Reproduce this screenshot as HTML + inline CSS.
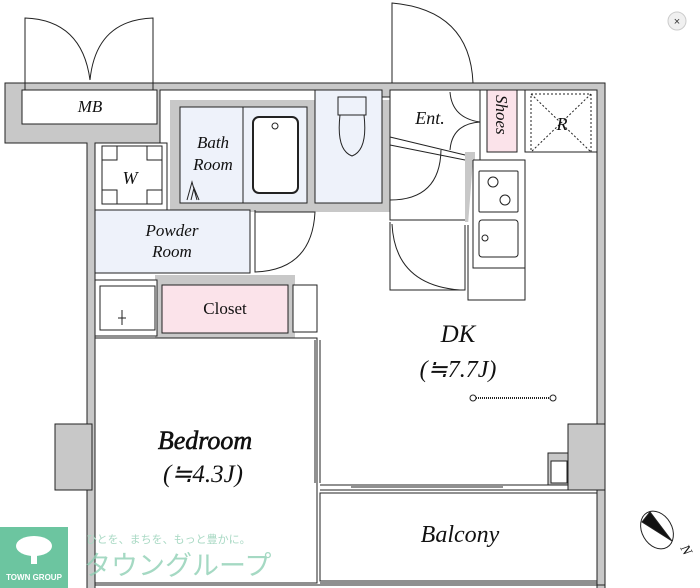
<!DOCTYPE html>
<html><head><meta charset="utf-8"><style>
html,body{margin:0;padding:0;background:#fff;width:700px;height:588px;overflow:hidden}
svg{display:block}
.t{font-family:"Liberation Serif",serif;font-style:italic;fill:#111}
</style></head><body>
<svg width="700" height="588" viewBox="0 0 700 588" xmlns="http://www.w3.org/2000/svg">
<g stroke="#222" stroke-width="1" fill="none">
<path d="M5 83 H605 V590 H597 V90 H390 V97 H315 V90 H160 V143 H95 V590 H87 V143 H5 Z" fill="#c8c8c8"/>
<rect x="22" y="90" width="135" height="34" fill="#fff"/>
<path d="M25 90 V18 Q82 20 90 80 M153 90 V18 Q96 20 90 80"/>
<path d="M25 83 H153"/>
<rect x="170" y="100" width="220" height="112" fill="#c8c8c8" stroke="none"/>
<rect x="180" y="107" width="63" height="96" fill="#eef2fa"/>
<rect x="243" y="107" width="64" height="96" fill="#eef2fa"/>
<rect x="253" y="117" width="45" height="76" rx="6" fill="#fff" stroke-width="2"/>
<circle cx="275" cy="126" r="3"/>
<path d="M187 200 L192 182 L197 200 M191 200 L194 188 L199 200"/>
<rect x="315" y="90" width="67" height="113" fill="#eef2fa"/>
<path d="M338 97 H366 V115 H338 Z M340 115 Q336 150 352 156 Q368 150 364 115"/>
<rect x="95" y="143" width="72" height="70" fill="#fff"/>
<rect x="102" y="146" width="60" height="58" fill="#fff"/>
<path d="M102 160 H117 V146 M147 146 V160 H162 M102 190 H117 V204 M147 204 V190 H162"/>
<path d="M95 210 H250 V273 H95 Z" fill="#eef2fa"/>
<path d="M167 143 V210" />
<path d="M255 210 V272 Q312 270 315 212 H255"/>
<rect x="390" y="90" width="90" height="130" fill="#fff"/>
<path d="M392 83 V3 Q470 10 473 83"/>
<path d="M390 137 L465 155 M390 145 L465 160"/>
<path d="M390 200 Q440 200 441 150"/>
<path d="M450 92 Q452 118 480 122 M450 150 Q452 124 480 122 M480 92 V150"/>
<path d="M390 222 V290 H465 V225 M392 224 Q395 285 460 290" fill="#fff"/>
<rect x="487" y="90" width="30" height="62" fill="#fbe3ea"/>
<rect x="525" y="90" width="72" height="62" fill="#fff"/>
<rect x="531" y="94" width="60" height="58" stroke-dasharray="2,2"/>
<path d="M531 94 L591 152 M591 94 L531 152" stroke-dasharray="2,2"/>
<rect x="465" y="152" width="10" height="70" fill="#c8c8c8" stroke="none"/>
<path d="M473 160 H525 V300 H468 V225" fill="#fff"/>
<path d="M473 160 V268 H525"/>
<rect x="479" y="171" width="39" height="41" rx="1"/>
<circle cx="493" cy="182" r="5"/><circle cx="505" cy="200" r="5"/>
<rect x="479" y="220" width="39" height="37" rx="3"/>
<circle cx="485" cy="238" r="3"/>
<rect x="155" y="275" width="140" height="65" fill="#c8c8c8" stroke="none"/>
<rect x="162" y="285" width="126" height="48" fill="#fbe3ea"/>
<rect x="95" y="280" width="62" height="56" fill="#fff"/>
<rect x="100" y="286" width="55" height="44"/>
<path d="M122 310 V325 M118 318 H126"/>
<rect x="293" y="285" width="24" height="47" fill="#fff"/>
<path d="M165 340 L171 360 L177 340 M164 340 L170 362 M263 340 L269 360 L275 340"/>
<path d="M95 338 H317 V583 H95 Z" fill="#fff"/>
<path d="M315 340 V483 M320 340 V483"/>
<path d="M320 485 H548 M320 490 H597 M351 487 H503"/>
<rect x="320" y="493" width="277" height="88" fill="#fff"/>
<path d="M320 583 H597 M95 585 H605"/>
<rect x="55" y="424" width="37" height="66" fill="#c8c8c8"/>
<rect x="568" y="424" width="37" height="66" fill="#c8c8c8"/>
<rect x="548" y="453" width="20" height="32" fill="#c8c8c8"/>
<rect x="551" y="461" width="16" height="22" fill="#fff"/>
<circle cx="473" cy="398" r="3"/><circle cx="553" cy="398" r="3"/>
<path d="M476 398 H550" stroke-dasharray="1,1" stroke-width="2"/>
<ellipse cx="657" cy="530" rx="15" ry="20" transform="rotate(-30 657 530)"/>
<path d="M642 522 L672 541 L650 512 Z" fill="#111"/>
</g>
<text class="t" x="90" y="112" font-size="17" text-anchor="middle">MB</text>
<text class="t" x="213" y="148" font-size="17" text-anchor="middle">Bath</text>
<text class="t" x="213" y="170" font-size="17" text-anchor="middle">Room</text>
<text class="t" x="130" y="184" font-size="18" text-anchor="middle">W</text>
<text class="t" x="172" y="236" font-size="17" text-anchor="middle">Powder</text>
<text class="t" x="172" y="257" font-size="17" text-anchor="middle">Room</text>
<text class="t" x="430" y="124" font-size="18" text-anchor="middle">Ent.</text>
<text class="t" x="0" y="0" font-size="17" transform="translate(496 95) rotate(90)">Shoes</text>
<text class="t" x="562" y="130" font-size="18" text-anchor="middle">R</text>
<text class="t" x="225" y="314" font-size="17" text-anchor="middle" style="font-style:normal">Closet</text>
<text class="t" x="458" y="342" font-size="25" text-anchor="middle">DK</text>
<text class="t" x="458" y="377" font-size="24" text-anchor="middle">(≒7.7J)</text>
<text class="t" x="205" y="449" font-size="26" text-anchor="middle" stroke="#111" stroke-width="0.6">Bedroom</text>
<text class="t" x="203" y="482" font-size="25" text-anchor="middle">(≒4.3J)</text>
<text class="t" x="460" y="542" font-size="24" text-anchor="middle">Balcony</text>
<text class="t" x="680" y="548" font-size="14" transform="rotate(60 680 548)">N</text>
<circle cx="677" cy="21" r="9" fill="#f0f0f0" stroke="#ccc"/>
<text x="677" y="25" font-size="11" text-anchor="middle" fill="#333" font-family="Liberation Sans,sans-serif">×</text>
<rect x="0" y="527" width="68" height="61" fill="#6cc5a0"/>
<ellipse cx="34" cy="546" rx="18" ry="10" fill="#fff"/>
<rect x="31" y="550" width="6" height="14" fill="#fff"/>
<text x="34" y="580" font-size="8" text-anchor="middle" fill="#fff" font-family="Liberation Sans,sans-serif" font-weight="bold">TOWN GROUP</text>
<text x="86" y="543" font-size="11" fill="#a9d9c4" font-family="Liberation Sans,'Noto Sans CJK JP',sans-serif">ひとを、まちを、もっと豊かに。</text>
<text x="84" y="575" font-size="27" fill="#8fd0b4" fill-opacity="0.8" font-family="Liberation Sans,'Noto Sans CJK JP',sans-serif">タウングループ</text>
</svg>
</body></html>
